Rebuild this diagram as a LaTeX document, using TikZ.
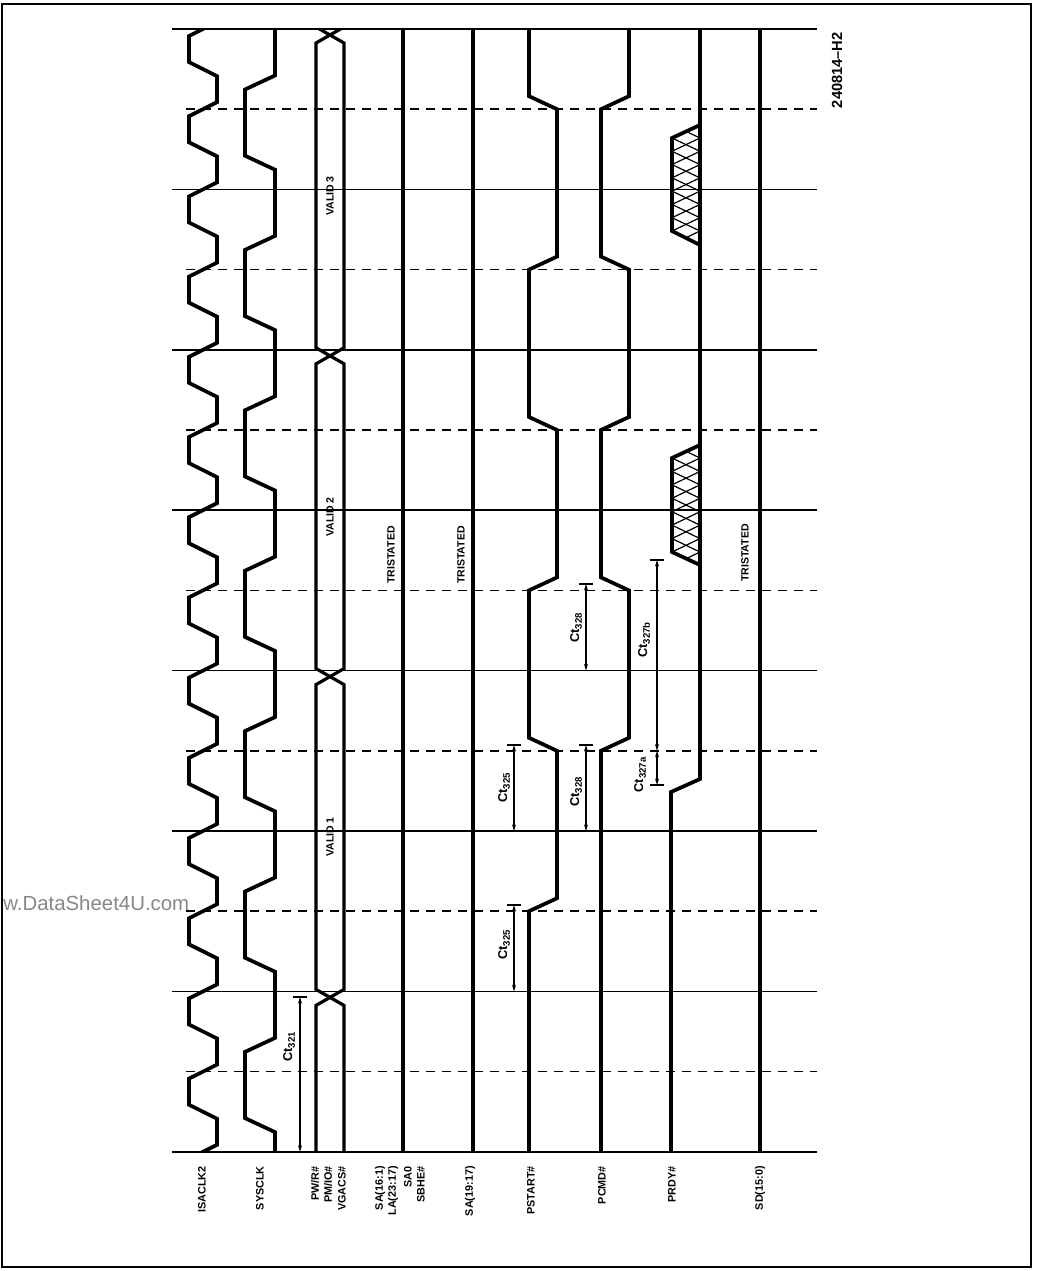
\documentclass[tikz,border=0pt]{standalone}
\usepackage{fontspec}
\setmainfont{Liberation Sans}
\usetikzlibrary{arrows.meta}
\definecolor{wmgray}{RGB}{135,135,135}
\newcommand{\sbs}[1]{\raisebox{-0.4ex}{\fontsize{7.2}{8}\selectfont #1}}
\begin{document}
\begin{tikzpicture}[x=0.75pt,y=-0.75pt,
  gridsolid/.style={line width=1.3pt},
  griddash/.style={line width=1.3pt,dash pattern=on 7pt off 5pt},
  sig/.style={line width=2.8pt},
  bus/.style={line width=2.4pt},
  hatchline/.style={line width=0.9pt},
  dimline/.style={line width=0.8pt,{Stealth[length=5pt,width=3pt]}-{Stealth[length=5pt,width=3pt]}},
  tbar/.style={line width=0.9pt},
  lbl/.style={font=\fontsize{8.1}{9}\selectfont\bfseries,rotate=90,inner sep=0pt,anchor=east},
  txt/.style={font=\fontsize{7.9}{9}\selectfont\bfseries,rotate=90,inner sep=0pt},
  ct/.style={font=\fontsize{9.6}{11}\selectfont\bfseries,rotate=90,inner sep=0pt}]
\useasboundingbox (0,0) rectangle (1038,1271);
% frame
\draw[line width=1.1pt] (2,4) rectangle (1031,1267);
% grid
\foreach \k in {0,2,...,14} \draw[gridsolid] (172,{29+\k*80.2}) -- (817,{29+\k*80.2});
\foreach \k in {1,3,...,13} \draw[griddash] (186,{29+\k*80.2}) -- (817,{29+\k*80.2});
% clocks and bus (clipped between first and last grid line)
\begin{scope}
\clip (150,29) rectangle (360,1151.8);
\draw[sig] (217,10) \foreach \k in {0,...,14} { -- (217,{29+\k*80.2-7}) -- (189,{29+\k*80.2+7}) -- (189,{29+\k*80.2+40.1-7}) -- (217,{29+\k*80.2+40.1+7}) };
\draw[sig] (275,10) \foreach \m in {0,...,6} { -- (275,{82.5+2*\m*80.2-7}) -- (245,{82.5+2*\m*80.2+7}) -- (245,{82.5+(2*\m+1)*80.2-7}) -- (275,{82.5+(2*\m+1)*80.2+7}) } -- (275,1160);
\draw[bus] (344,27) -- (316,43) -- (316,347.8) -- (344,363.8) -- (344,668.6) -- (316,684.6) -- (316,989.4) -- (344,1005.4) -- (344,1160);
\draw[bus] (316,27) -- (344,43) -- (344,347.8) -- (316,363.8) -- (316,668.6) -- (344,684.6) -- (344,989.4) -- (316,1005.4) -- (316,1160);
\end{scope}
% straight signals
\draw[sig] (403,29) -- (403,1151.8);
\draw[sig] (473,29) -- (473,1151.8);
\draw[sig] (760,29) -- (760,1151.8);
% PSTART#
\draw[sig] (529,29) -- (529,96.2) -- (557,109.2) -- (557,256.6) -- (529,269.6) -- (529,417) -- (557,430) -- (557,577.4) -- (529,590.4) -- (529,737.8) -- (557,750.8) -- (557,898.2) -- (529,911.2) -- (529,1151.8);
% PCMD#
\draw[sig] (629,29) -- (629,96.2) -- (601,109.2) -- (601,256.6) -- (629,269.6) -- (629,417) -- (601,430) -- (601,577.4) -- (629,590.4) -- (629,737.8) -- (601,750.8) -- (601,1151.8);
% PRDY#
\draw[sig] (700,29) -- (700,779) -- (671,792) -- (671,1151.8);
% hatched regions
\foreach \ya/\yb/\yc/\yd in {125/138/231/245, 445/458/552/565} {
  \begin{scope}
    \clip (700,\ya) -- (672,\yb) -- (672,\yc) -- (700,\yd) -- cycle;
    \foreach \i in {-1,...,8} {
      \draw[hatchline] (672,{\yb+\i*(\yc-\yb)/7}) -- (700,{\yb+(\i+1)*(\yc-\yb)/7});
      \draw[hatchline] (700,{\yb+\i*(\yc-\yb)/7}) -- (672,{\yb+(\i+1)*(\yc-\yb)/7});
    }
  \end{scope}
  \draw[sig] (700,\ya) -- (672,\yb) -- (672,\yc) -- (700,\yd);
}
% dimension markers
\coordinate (a1) at (300,997); \coordinate (a2) at (300,1151.8);
\draw[tbar] (293,997) -- (307,997); \draw[dimline] (a1) -- (a2);
\coordinate (b1) at (514,745); \coordinate (b2) at (514,831);
\draw[tbar] (507,745) -- (521,745); \draw[dimline] (b1) -- (b2);
\coordinate (c1) at (514,905); \coordinate (c2) at (514,991.4);
\draw[tbar] (507,905) -- (521,905); \draw[dimline] (c1) -- (c2);
\coordinate (d1) at (586,584); \coordinate (d2) at (586,670.6);
\draw[tbar] (579,584) -- (593,584); \draw[dimline] (d1) -- (d2);
\coordinate (e1) at (586,745); \coordinate (e2) at (586,831);
\draw[tbar] (579,745) -- (593,745); \draw[dimline] (e1) -- (e2);
\coordinate (f1) at (657,560); \coordinate (f2) at (657,750.8); \coordinate (f3) at (657,785);
\draw[tbar] (650,560) -- (664,560); \draw[dimline] (f1) -- (f2);
\draw[tbar] (650,785) -- (664,785); \draw[dimline] (f2) -- (f3);
% dimension labels
\node[ct] (l321) at (289,1047) {Ct\sbs{321}};
\node[ct] (l325a) at (504,788) {Ct\sbs{325}};
\node[ct] (l325b) at (504,945) {Ct\sbs{325}};
\node[ct] (l328a) at (576,628) {Ct\sbs{328}};
\node[ct] (l328b) at (576,792) {Ct\sbs{328}};
\node[ct] (l327b) at (644,640) {Ct\sbs{327b}};
\node[ct] (l327a) at (640,775) {Ct\sbs{327a}};
% inside texts
\node[txt] (v3) at (330,196) {VALID 3};
\node[txt] (v2) at (330,517) {VALID 2};
\node[txt] (v1) at (330,837) {VALID 1};
\node[txt] (t1) at (391,555) {TRISTATED};
\node[txt] (t2) at (461,555) {TRISTATED};
\node[txt] (t3) at (745,553) {TRISTATED};
\node[font=\fontsize{11}{13}\selectfont\bfseries,rotate=90,inner sep=0pt,anchor=east] (fig) at (837,32) {240814--H2};
% signal names
\node[lbl] (n1) at (202,1166) {ISACLK2};
\node[lbl] (n2) at (260,1166) {SYSCLK};
\node[lbl] (n3) at (315,1166) {PW/R\#};
\node[lbl] (n4) at (328,1166) {PM/IO\#};
\node[lbl] (n5) at (342,1166) {VGACS\#};
\node[lbl] (n6) at (380,1166) {SA(16:1)};
\node[lbl] (n7) at (393,1166) {LA(23:17)};
\node[lbl] (n8) at (408,1166) {SA0};
\node[lbl] (n9) at (421,1166) {SBHE\#};
\node[lbl] (n10) at (470,1166) {SA(19:17)};
\node[lbl] (n11) at (531,1166) {PSTART\#};
\node[lbl] (n12) at (602,1166) {PCMD\#};
\node[lbl] (n13) at (672,1166) {PRDY\#};
\node[lbl] (n14) at (760,1166) {SD(15:0)};
% watermark
\node[anchor=base west,inner sep=0pt,text=wmgray,font=\fontsize{15.3}{17}\selectfont] (wm) at (3,910) {w.DataSheet4U.com};
\end{tikzpicture}
\end{document}
